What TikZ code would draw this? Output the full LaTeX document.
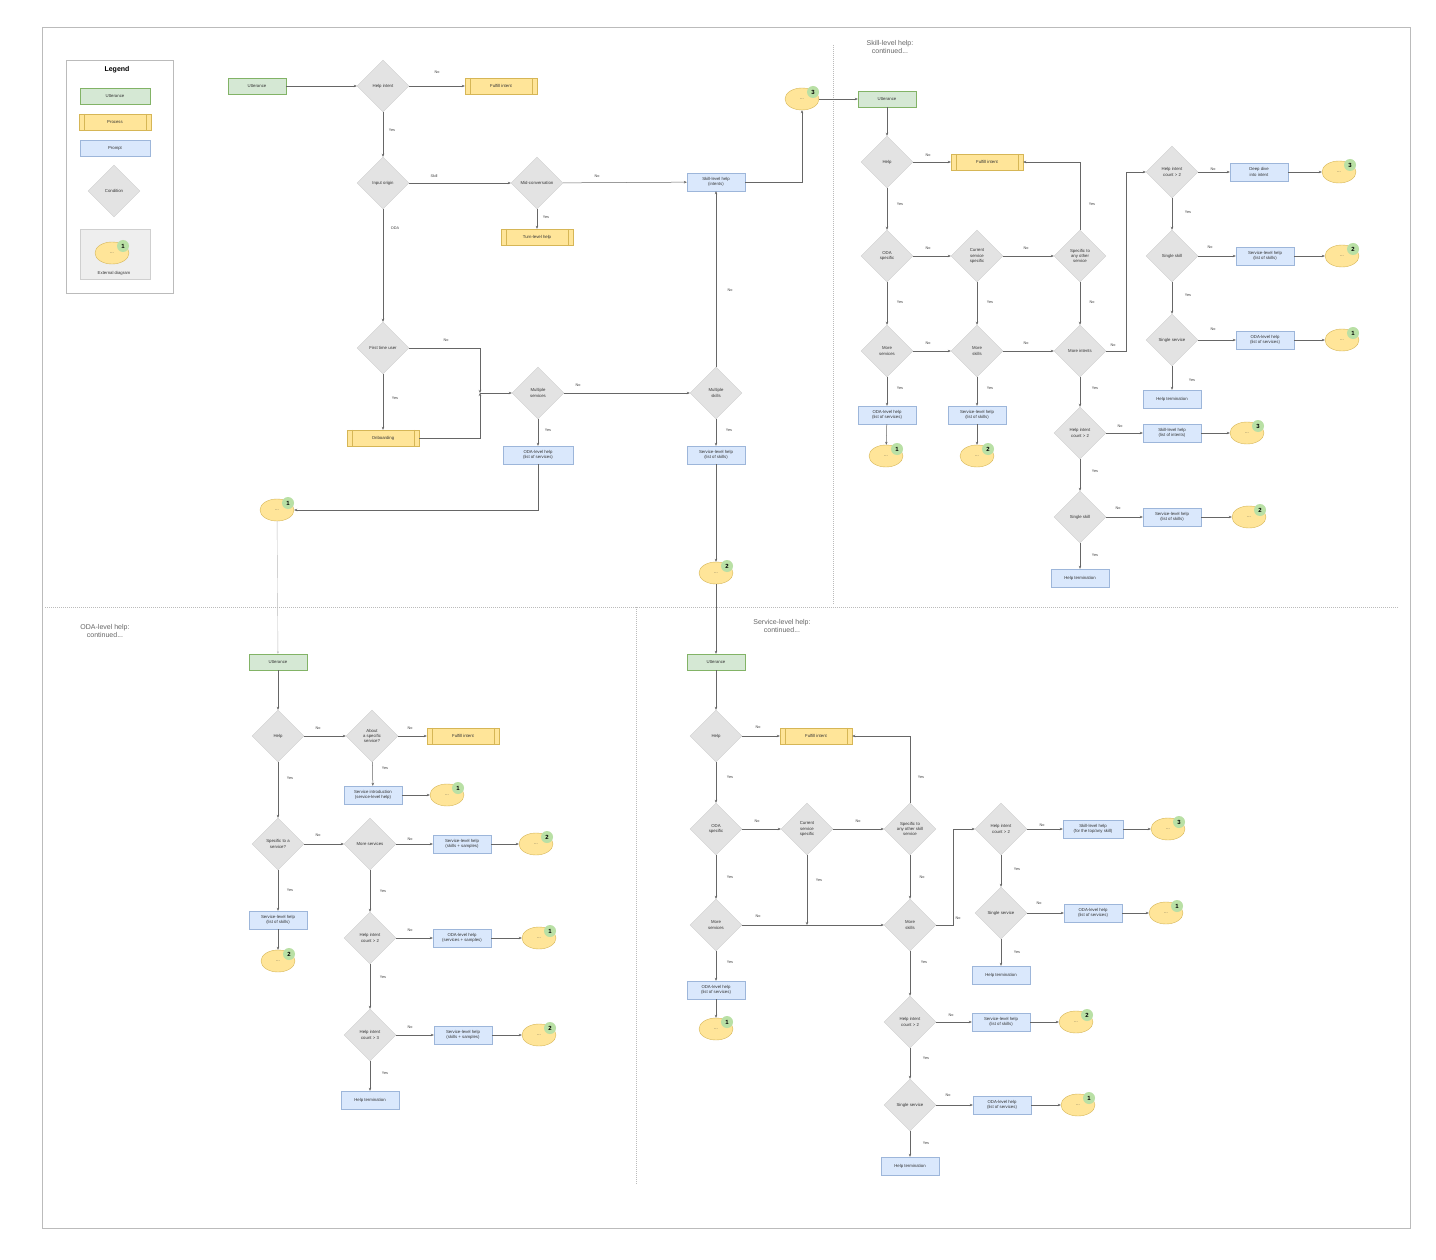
\documentclass[tikz,border=0pt]{standalone}
\usepackage{fontspec}
\setmainfont{Liberation Sans}
\usetikzlibrary{shapes.geometric,arrows.meta}
\definecolor{ugreen}{HTML}{D5E8D4}\definecolor{ugreenb}{HTML}{82B366}
\definecolor{pyel}{HTML}{FFE599}\definecolor{pyelb}{HTML}{D6B656}
\definecolor{pblue}{HTML}{DAE8FC}\definecolor{pblueb}{HTML}{9DB6DA}
\definecolor{cgray}{HTML}{E3E3E3}\definecolor{cgrayb}{HTML}{CFCFCF}
\definecolor{bgreen}{HTML}{B9E0A5}\definecolor{lgray}{HTML}{BBBBBB}
\tikzset{
 tx/.style={font=\fontsize{4.3}{5.2}\selectfont, align=center, text=black!80},
 utt/.style={tx, draw=ugreenb, fill=ugreen, minimum width=58pt, minimum height=16pt, inner sep=1pt},
 proc/.style={tx, draw=pyelb, fill=pyel, minimum width=72pt, minimum height=16pt, inner sep=1pt},
 prm/.style={tx, draw=pblueb, fill=pblue, minimum width=58pt, minimum height=18pt, inner sep=1pt},
 cond/.style={tx, diamond, draw=cgrayb, fill=cgray, minimum width=52pt, minimum height=52pt, inner sep=0pt},
 extell/.style={tx, ellipse, draw=pyelb, fill=pyel, minimum width=34pt, minimum height=22pt, inner sep=0pt},
 badge/.style={circle, fill=bgreen, minimum size=12pt, inner sep=0pt, font=\fontsize{6}{6}\bfseries\selectfont},
 lab/.style={font=\fontsize{3.8}{4.5}\selectfont, text=black!75},
 ttl/.style={font=\fontsize{7}{8}\selectfont, text=black!60, align=center},
 arr/.style={draw=black!60, line width=0.5pt, -{Stealth[length=3pt,width=2.5pt]}},
 sep/.style={draw=lgray, dash pattern=on 1pt off 1pt, line width=0.5pt}
}
\newcommand\procn[4]{\node[proc] (#1) at (#2,#3) {#4};
 \draw[pyelb] ([xshift=5pt]#1.north west) -- ([xshift=5pt]#1.south west)
   ([xshift=-5pt]#1.north east) -- ([xshift=-5pt]#1.south east);}
\newcommand\extn[4]{\node[extell] (#1) at (#2,#3) {...};
 \node[badge] (#1b) at ([shift={(11,-7)}]#1.center) {#4};}
\begin{document}
\begin{tikzpicture}[x=1pt,y=-1pt]
\useasboundingbox (0,0) rectangle (1436,1260);
\fill[white] (0,0) rectangle (1436,1260);
\draw[lgray, line width=0.8pt] (42,27) rectangle (1410,1228);
\draw[sep] (833,45) -- (833,605);
\draw[sep] (45,607) -- (1398,607);
\draw[sep] (636,607) -- (636,1185);

% Legend
\draw[lgray] (66,60) rectangle (173,293);
\node[font=\fontsize{7}{8}\bfseries\selectfont] (legt) at (117,70) {Legend};
\node[utt, minimum width=70pt] (lg1) at (115,96) {Utterance};
\procn{lg2}{115}{122}{Process}
\node[prm, minimum width=70pt, minimum height=16pt] (lg3) at (115,148) {Prompt};
\node[cond] (lg4) at (114,191) {Condition};
\draw[cgrayb, fill=cgray!60] (80,229) rectangle (150,279);
\extn{lg5}{112}{253}{1}
\node[tx] (lg6) at (114,273) {External diagram};

% ===== Top-left =====
\node[utt] (u1) at (257,86) {Utterance};
\node[cond] (dhelp) at (383,86) {Help intent};
\procn{f1}{501}{86}{Fulfill intent}
\node[cond] (dorig) at (383,183) {Input origin};
\node[cond] (dmid) at (537,183) {Mid-conversation};
\procn{turn}{537}{237}{Turn-level help}
\node[prm] (skh) at (716,182) {Skill-level help\\(intents)};
\extn{e3a}{802}{99}{3}
\node[cond] (dfirst) at (383,348) {First time user};
\procn{onb}{383}{438}{Onboarding}
\node[cond] (dms) at (538,393) {Multiple\\services};
\node[cond] (dmk) at (716,393) {Multiple\\skills};
\node[prm, minimum width=70pt] (odah) at (538,455) {ODA-level help\\(list of services)};
\node[prm] (svh) at (716,455) {Service-level help\\(list of skills)};
\extn{e1a}{277}{510}{1}
\extn{e2a}{716}{573}{2}
\coordinate (j1) at (480,393);
\draw[arr] (u1) -- (dhelp);
\draw[arr] (dhelp) -- (f1); \node[lab] (l1) at (437,72) {No};
\draw[arr] (dhelp) -- (dorig); \node[lab] (l2) at (392,130) {Yes};
\draw[arr] (dorig) -- (dmid); \node[lab] (l3) at (434,176) {Skill};
\draw[arr] (dmid) -- (skh); \node[lab] (l4) at (597,176) {No};
\draw[arr] (dmid) -- (turn); \node[lab] (l5) at (546,217) {Yes};
\draw[arr] (dorig) -- (dfirst); \node[lab] (l6) at (395,228) {ODA};
\draw[arr] (dfirst.east) -| (j1); \node[lab] (l7) at (446,340) {No};
\draw[arr] (onb.east) -| (j1);
\draw[arr] (j1) -- (dms);
\draw[arr] (dfirst) -- (onb); \node[lab] (l8) at (395,398) {Yes};
\draw[arr] (dms) -- (dmk); \node[lab] (l9) at (578,385) {No};
\draw[arr] (dms) -- (odah); \node[lab] (l10) at (548,430) {Yes};
\draw[arr] (dmk) -- (svh); \node[lab] (l11) at (729,430) {Yes};
\draw[arr] (dmk) -- (skh); \node[lab] (l12) at (730,290) {No};
\draw[arr] (skh.east) -| (e3a.south);
\draw[arr] (odah.south) |- (e1a.east);
\draw[arr] (svh) -- (e2a);

% ===== Top-right =====
\node[ttl] (t2) at (890,47) {Skill-level help:\\continued...};
\node[utt] (u2) at (887,99) {Utterance};
\draw[arr] (e3a) -- (u2);
\node[cond] (h2) at (887,162) {Help};
\procn{f2}{987}{162}{Fulfill intent}
\node[cond] (oda2) at (887,256) {ODA\\specific};
\node[cond] (cur2) at (977,256) {Current\\service\\specific};
\node[cond] (sp2) at (1080,256) {Specific to\\any other\\service};
\node[cond] (ms2) at (887,351) {More\\services};
\node[cond] (mk2) at (977,351) {More\\skills};
\node[cond] (mi2) at (1080,351) {More intents};
\node[prm] (oh2) at (887,415) {ODA-level help\\(list of services)};
\node[prm] (sh2) at (977,415) {Service-level help\\(list of skills)};
\extn{e21}{886}{456}{1}
\extn{e22}{977}{456}{2}
\node[cond] (hc2a) at (1080,433) {Help intent\\count > 2};
\node[prm] (kh2) at (1172,433) {Skill-level help\\(list of intents)};
\extn{e23}{1247}{433}{3}
\node[cond] (ss2a) at (1080,517) {Single skill};
\node[prm] (sh2b) at (1172,517) {Service-level help\\(list of skills)};
\extn{e24}{1249}{517}{2}
\node[prm] (tm2a) at (1080,578) {Help termination};
\node[cond] (hc2b) at (1172,172) {Help intent\\count > 2};
\node[prm] (dd2) at (1259,172) {Deep dive\\into intent};
\extn{e25}{1339}{172}{3}
\node[cond] (ss2b) at (1172,256) {Single skill};
\node[prm] (sh2c) at (1265,256) {Service-level help\\(list of skills)};
\extn{e26}{1342}{256}{2}
\node[cond] (sv2) at (1172,340) {Single service};
\node[prm] (oh2b) at (1265,340) {ODA-level help\\(list of services)};
\extn{e27}{1342}{340}{1}
\node[prm] (tm2b) at (1172,399) {Help termination};
\draw[arr] (u2) -- (h2);
\draw[arr] (h2) -- (f2); \node[lab] (m1) at (928,155) {No};
\draw[arr] (h2) -- (oda2); \node[lab] (m2) at (900,204) {Yes};
\draw[arr] (oda2) -- (cur2); \node[lab] (m3) at (928,248) {No};
\draw[arr] (cur2) -- (sp2); \node[lab] (m4) at (1026,248) {No};
\draw[arr] (sp2.north) |- (f2.east); \node[lab] (m5) at (1092,204) {Yes};
\draw[arr] (sp2) -- (mi2); \node[lab] (m6) at (1092,302) {No};
\draw[arr] (oda2) -- (ms2); \node[lab] (m7) at (900,302) {Yes};
\draw[arr] (cur2) -- (mk2); \node[lab] (m8) at (990,302) {Yes};
\draw[arr] (ms2) -- (mk2); \node[lab] (m9) at (928,343) {No};
\draw[arr] (mk2) -- (mi2); \node[lab] (m10) at (1026,343) {No};
\draw[arr] (ms2) -- (oh2); \node[lab] (m11) at (900,388) {Yes};
\draw[arr] (mk2) -- (sh2); \node[lab] (m12) at (990,388) {Yes};
\draw[arr] (oh2) -- (e21);
\draw[arr] (sh2) -- (e22);
\draw[arr] (mi2.east) -- (1126,351) |- (hc2b.west); \node[lab] (m13) at (1113,345) {No};
\draw[arr] (mi2) -- (hc2a); \node[lab] (m14) at (1095,388) {Yes};
\draw[arr] (hc2a) -- (kh2); \node[lab] (m15) at (1120,426) {No};
\draw[arr] (kh2) -- (e23);
\draw[arr] (hc2a) -- (ss2a); \node[lab] (m16) at (1095,471) {Yes};
\draw[arr] (ss2a) -- (sh2b); \node[lab] (m17) at (1118,508) {No};
\draw[arr] (sh2b) -- (e24);
\draw[arr] (ss2a) -- (tm2a); \node[lab] (m18) at (1095,555) {Yes};
\draw[arr] (hc2b) -- (dd2); \node[lab] (m19) at (1213,169) {No};
\draw[arr] (dd2) -- (e25);
\draw[arr] (hc2b) -- (ss2b); \node[lab] (m20) at (1188,212) {Yes};
\draw[arr] (ss2b) -- (sh2c); \node[lab] (m21) at (1210,247) {No};
\draw[arr] (sh2c) -- (e26);
\draw[arr] (ss2b) -- (sv2); \node[lab] (m22) at (1188,295) {Yes};
\draw[arr] (sv2) -- (oh2b); \node[lab] (m23) at (1213,329) {No};
\draw[arr] (oh2b) -- (e27);
\draw[arr] (sv2) -- (tm2b); \node[lab] (m24) at (1192,380) {Yes};

% ===== Bottom-left =====
\node[ttl] (t3) at (105,631) {ODA-level help:\\continued...};
\node[utt] (u3) at (278,662) {Utterance};
\draw[lgray, line width=0.4pt, -{Stealth[length=2.5pt]}] (e1a) -- (u3);
\node[cond] (h3) at (278,736) {Help};
\node[cond] (ab3) at (372,736) {About\\a specific\\service?};
\procn{f3}{463}{736}{Fulfill intent}
\node[prm, minimum width=58pt] (si3) at (373,795) {Service introduction\\(service-level help)};
\extn{e31}{447}{795}{1}
\node[cond] (sp3) at (278,844) {Specific to a\\service?};
\node[cond] (ms3) at (370,844) {More services};
\node[prm] (sh3) at (462,844) {Service-level help\\(skills + samples)};
\extn{e32}{536}{844}{2}
\node[prm] (sh3b) at (278,920) {Service-level help\\(list of skills)};
\extn{e33}{278}{961}{2}
\node[cond] (hc3a) at (370,938) {Help intent\\count > 2};
\node[prm] (oh3) at (462,938) {ODA-level help\\(services + samples)};
\extn{e34}{539}{938}{1}
\node[cond] (hc3b) at (370,1035) {Help intent\\count > 3};
\node[prm] (sh3c) at (463,1035) {Service-level help\\(skills + samples)};
\extn{e35}{539}{1035}{2}
\node[prm] (tm3) at (370,1100) {Help termination};
\draw[arr] (u3) -- (h3);
\draw[arr] (h3) -- (ab3); \node[lab] (n1) at (318,728) {No};
\draw[arr] (ab3) -- (f3); \node[lab] (n2) at (410,728) {No};
\draw[arr] (ab3) -- (si3); \node[lab] (n3) at (385,768) {Yes};
\draw[arr] (si3) -- (e31);
\draw[arr] (h3) -- (sp3); \node[lab] (n4) at (290,778) {Yes};
\draw[arr] (sp3) -- (ms3); \node[lab] (n5) at (318,835) {No};
\draw[arr] (ms3) -- (sh3); \node[lab] (n6) at (410,839) {No};
\draw[arr] (sh3) -- (e32);
\draw[arr] (sp3) -- (sh3b); \node[lab] (n7) at (290,890) {Yes};
\draw[arr] (sh3b) -- (e33);
\draw[arr] (ms3) -- (hc3a); \node[lab] (n8) at (383,891) {Yes};
\draw[arr] (hc3a) -- (oh3); \node[lab] (n9) at (410,930) {No};
\draw[arr] (oh3) -- (e34);
\draw[arr] (hc3a) -- (hc3b); \node[lab] (n10) at (383,977) {Yes};
\draw[arr] (hc3b) -- (sh3c); \node[lab] (n11) at (410,1027) {No};
\draw[arr] (sh3c) -- (e35);
\draw[arr] (hc3b) -- (tm3); \node[lab] (n12) at (385,1073) {Yes};

% ===== Bottom-right =====
\node[ttl] (t4) at (782,626) {Service-level help:\\continued...};
\node[utt] (u4) at (716,662) {Utterance};
\draw[arr] (e2a) -- (u4);
\node[cond] (h4) at (716,736) {Help};
\procn{f4}{816}{736}{Fulfill intent}
\node[cond] (oda4) at (716,829) {ODA\\specific};
\node[cond] (cur4) at (807,829) {Current\\service\\specific};
\node[cond] (sp4) at (910,829) {Specific to\\any other skill\\service};
\node[cond] (ms4) at (716,925) {More\\services};
\node[cond] (mk4) at (910,925) {More\\skills};
\node[prm] (oh4) at (716,990) {ODA-level help\\(list of services)};
\extn{e41}{716}{1029}{1}
\node[cond] (hc4a) at (1001,829) {Help intent\\count > 2};
\node[prm, minimum width=60pt] (kh4) at (1093,829) {Skill-level help\\(for the top/any skill)};
\extn{e42}{1168}{829}{3}
\node[cond] (sv4a) at (1001,913) {Single service};
\node[prm] (oh4b) at (1093,913) {ODA-level help\\(list of services)};
\extn{e43}{1166}{913}{1}
\node[prm] (tm4a) at (1001,975) {Help termination};
\node[cond] (hc4b) at (910,1022) {Help intent\\count > 2};
\node[prm] (sh4) at (1001,1022) {Service-level help\\(list of skills)};
\extn{e44}{1076}{1022}{2}
\node[cond] (sv4b) at (910,1105) {Single service};
\node[prm] (oh4c) at (1002,1105) {ODA-level help\\(list of services)};
\extn{e45}{1078}{1105}{1}
\node[prm] (tm4b) at (910,1166) {Help termination};
\coordinate (j4) at (807,925);
\draw[arr] (u4) -- (h4);
\draw[arr] (h4) -- (f4); \node[lab] (o1) at (758,727) {No};
\draw[arr] (h4) -- (oda4); \node[lab] (o2) at (730,777) {Yes};
\draw[arr] (oda4) -- (cur4); \node[lab] (o3) at (757,821) {No};
\draw[arr] (cur4) -- (sp4); \node[lab] (o4) at (858,821) {No};
\draw[arr] (sp4.north) |- (f4.east); \node[lab] (o5) at (921,777) {Yes};
\draw[arr] (sp4) -- (mk4); \node[lab] (o6) at (922,877) {No};
\draw[arr] (oda4) -- (ms4); \node[lab] (o7) at (730,877) {Yes};
\draw[arr] (cur4) -- (j4); \node[lab] (o8) at (819,880) {Yes};
\draw[arr] (ms4) -- (mk4); \node[lab] (o9) at (758,916) {No};
\draw[arr] (ms4) -- (oh4); \node[lab] (o10) at (730,962) {Yes};
\draw[arr] (oh4) -- (e41);
\draw[arr] (mk4.east) -- (953,925) |- (hc4a.west); \node[lab] (o11) at (958,918) {No};
\draw[arr] (hc4a) -- (kh4); \node[lab] (o12) at (1042,825) {No};
\draw[arr] (kh4) -- (e42);
\draw[arr] (hc4a) -- (sv4a); \node[lab] (o13) at (1017,869) {Yes};
\draw[arr] (sv4a) -- (oh4b); \node[lab] (o14) at (1039,903) {No};
\draw[arr] (oh4b) -- (e43);
\draw[arr] (sv4a) -- (tm4a); \node[lab] (o15) at (1017,952) {Yes};
\draw[arr] (mk4) -- (hc4b); \node[lab] (o16) at (924,962) {Yes};
\draw[arr] (hc4b) -- (sh4); \node[lab] (o17) at (951,1015) {No};
\draw[arr] (sh4) -- (e44);
\draw[arr] (hc4b) -- (sv4b); \node[lab] (o18) at (926,1058) {Yes};
\draw[arr] (sv4b) -- (oh4c); \node[lab] (o19) at (948,1095) {No};
\draw[arr] (oh4c) -- (e45);
\draw[arr] (sv4b) -- (tm4b); \node[lab] (o20) at (926,1143) {Yes};
\end{tikzpicture}
\end{document}
